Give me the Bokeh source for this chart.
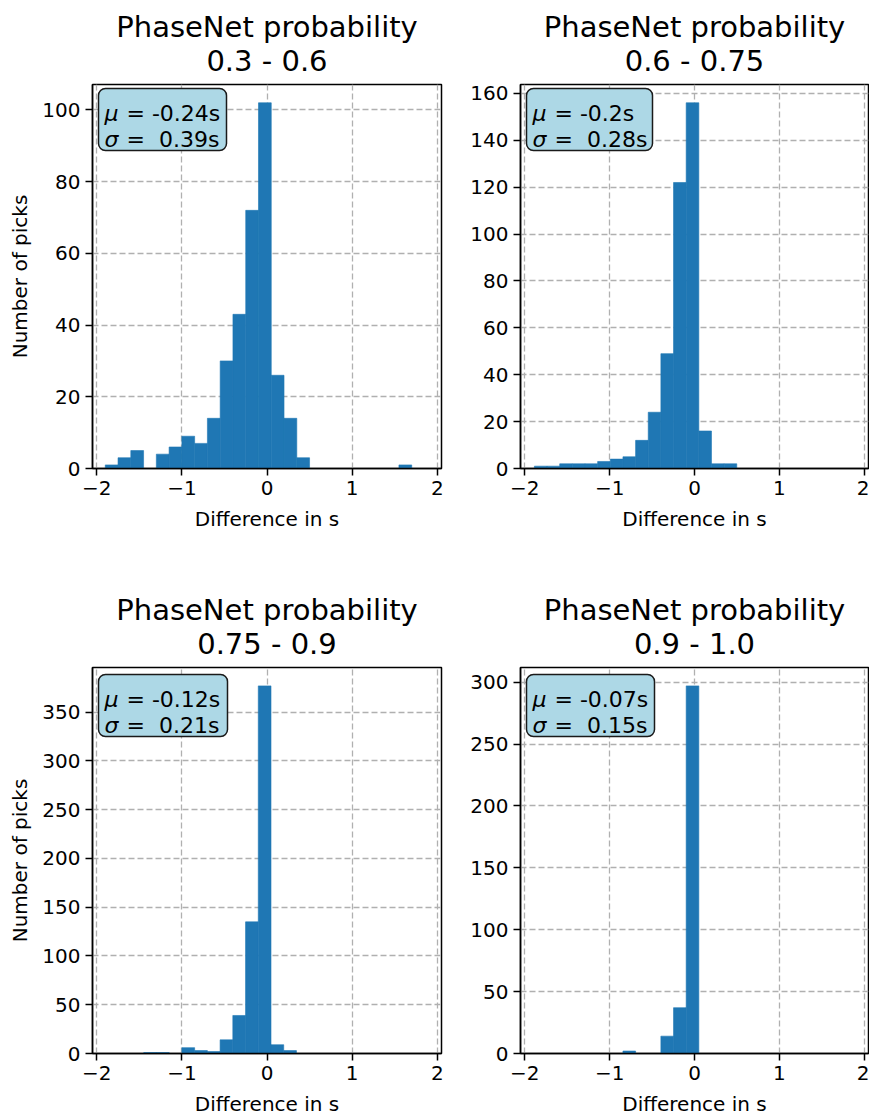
from bokeh.plotting import figure
from bokeh.layouts import column, row
from bokeh.models import Title, Label, BoxAnnotation, FixedTicker, Range1d, CustomJSTickFormatter
from bokeh.embed import file_html
from bokeh.resources import INLINE

# ---------------- data ----------------
title_main = "PhaseNet probability"
title_ranges = ["0.3 - 0.6", "0.6 - 0.75", "0.75 - 0.9", "0.9 - 1.0"]

bin_start = [-1.90, -1.886, -1.448, -0.843]
bin_width = [0.15, 0.149, 0.1495, 0.149]
counts_1 = [1, 3, 5, 0, 4, 6, 9, 7, 14, 30, 43, 72, 102, 26, 14, 3, 0, 0, 0, 0, 0, 0, 0, 1]
counts_2 = [1, 1, 2, 2, 2, 3, 4, 5, 12, 24, 49, 122, 156, 16, 2, 2]
counts_3 = [1, 1, 0, 6, 3, 2, 14, 39, 135, 377, 9, 3]
counts_4 = [2, 0, 0, 14, 37, 297]
counts = [counts_1, counts_2, counts_3, counts_4]

means = ["-0.24", "-0.2", "-0.12", "-0.07"]
stds = ["0.39", "0.28", "0.21", "0.15"]

x_ticks = [-2, -1, 0, 1, 2]
y_ticks = [
    [0, 20, 40, 60, 80, 100],
    [0, 20, 40, 60, 80, 100, 120, 140, 160],
    [0, 50, 100, 150, 200, 250, 300, 350],
    [0, 50, 100, 150, 200, 250, 300],
]
x_label = "Difference in s"
y_label = "Number of picks"

# ---------------- style ----------------
FONT = "DejaVu Sans"
BAR = "#1f77b4"
X0, X1 = -2.05, 2.05

left_b = [92, 56, 92, 56]
right_b = [23, 1, 23, 1]
frame_w = [349, 348, 349, 348]
frame_h = [384, 384, 386, 386]
top_b = [84, 84, 84, 84]
bot_b = [115, 115, 64, 64]
box_w = [128, 126, 129, 128]
box_top = [4, 4, 7, 7]


def make(i):
    c = counts[i]
    edges = [bin_start[i] + bin_width[i] * k for k in range(len(c) + 1)]
    ymax = max(c) * 1.05
    p = figure(
        title=None,
        frame_width=frame_w[i], frame_height=frame_h[i],
        min_border_left=left_b[i], min_border_right=right_b[i],
        min_border_top=top_b[i], min_border_bottom=bot_b[i],
        x_range=Range1d(X0, X1), y_range=Range1d(0, ymax),
        output_backend="svg", toolbar_location=None,
        background_fill_color="white", border_fill_color="white",
    )
    p.quad(left=edges[:-1], right=edges[1:], top=c, bottom=0,
           fill_color=BAR, line_color=BAR, line_width=0.6)

    ttl = Title(text=title_main + "\n" + title_ranges[i], align="center",
                text_align="center", text_font=FONT,
                text_font_size="29px", text_font_style="normal",
                text_line_height=1.0,
                text_color="black", standoff=14)
    p.add_layout(ttl, "above")

    p.outline_line_color = "black"
    p.outline_line_width = 1.5
    p.outline_line_alpha = 1.0

    p.xaxis.ticker = FixedTicker(ticks=x_ticks)
    p.yaxis.ticker = FixedTicker(ticks=y_ticks[i])
    p.xaxis.formatter = CustomJSTickFormatter(
        code="return (tick < 0 ? '\\u2212' : '') + Math.abs(tick).toFixed(0);")
    for ax in (p.xaxis[0], p.yaxis[0]):
        ax.major_label_text_font = FONT
        ax.major_label_text_font_size = "20px"
        ax.major_label_text_color = "black"
        ax.axis_label_text_font = FONT
        ax.axis_label_text_font_size = "20px"
        ax.axis_label_text_font_style = "normal"
        ax.axis_label_text_color = "black"
        ax.major_tick_out = 7
        ax.major_tick_in = 0
        ax.major_tick_line_width = 1.5
        ax.major_tick_line_color = "black"
        ax.minor_tick_line_color = None
        ax.axis_line_color = "black"
        ax.axis_line_width = 1.5
        ax.major_label_standoff = 5
    p.xaxis.axis_label = x_label
    p.xaxis.axis_label_standoff = 9
    if i % 2 == 0:
        p.yaxis.axis_label = y_label
        p.yaxis.axis_label_standoff = 7

    for g in (p.xgrid[0], p.ygrid[0]):
        g.grid_line_color = "#b0b0b0"
        g.grid_line_dash = "6 3"
        g.grid_line_width = 1.3

    # stats box (pixel offsets from the frame's top-left, mapped to data)
    sx = (X1 - X0) / frame_w[i]
    sy = ymax / frame_h[i]

    def px(v):
        return X0 + v * sx

    def py(v):
        return ymax - v * sy

    bt = box_top[i]
    p.add_layout(BoxAnnotation(left=px(6), right=px(6 + box_w[i]),
                               top=py(bt), bottom=py(bt + 62),
                               fill_color="#add8e6", fill_alpha=1.0,
                               line_color="#1a1a1a", line_alpha=1.0,
                               line_width=1.5, border_radius=7))
    lines = [("\u03bc", "= " + means[i] + "s", bt + 25),
             ("\u03c3", "=\u00a0 " + stds[i] + "s", bt + 51)]
    for sym, rest, base in lines:
        p.add_layout(Label(x=px(12), y=py(base), text=sym, text_font=FONT,
                           text_font_size="22px", text_font_style="italic",
                           text_color="black", text_baseline="alphabetic"))
        p.add_layout(Label(x=px(34), y=py(base), text=rest, text_font=FONT,
                           text_font_size="22px", text_color="black",
                           text_baseline="alphabetic"))
    return p


plots = [make(i) for i in range(4)]
layout = column(row(plots[0], plots[1]), row(plots[2], plots[3]))

open("out.html", "w").write(file_html(layout, INLINE))
